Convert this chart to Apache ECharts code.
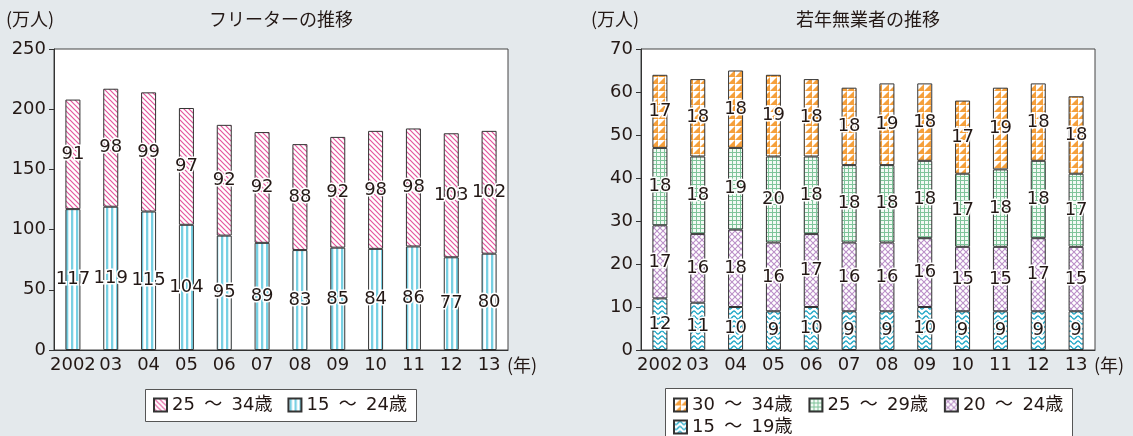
<!DOCTYPE html>
<html>
<head>
<meta charset="utf-8">
<script src="https://cdn.jsdelivr.net/npm/echarts@6/dist/echarts.min.js"></script>
<style>
  html, body { margin: 0; padding: 0; background: #e4e9ec; }
  #chart { width: 1133px; height: 436px; }
</style>
</head>
<body>
<div id="chart"></div>
<script>
// Years on the horizontal axis
const years = ['2002', '03', '04', '05', '06', '07', '08', '09', '10', '11', '12', '13'];

// フリーター (万人)
const freeter15to24 = [117, 119, 115, 104, 95, 89, 83, 85, 84, 86, 77, 80];
const freeter25to34 = [91, 98, 99, 97, 92, 92, 88, 92, 98, 98, 103, 102];

// 若年無業者 (万人)
const neet15to19 = [12, 11, 10, 9, 10, 9, 9, 10, 9, 9, 9, 9];
const neet20to24 = [17, 16, 18, 16, 17, 16, 16, 16, 15, 15, 17, 15];
const neet25to29 = [18, 18, 19, 20, 18, 18, 18, 18, 17, 18, 18, 17];
const neet30to34 = [17, 18, 18, 19, 18, 18, 19, 18, 17, 19, 18, 18];

// Series names (age groups); thin spaces widen the gap around the tilde
const freeterNames = ['25 \u2009～\u2009 34歳', '15 \u2009～\u2009 24歳'];
const neetNames = ['30 \u2009～\u2009 34歳', '25 \u2009～\u2009 29歳', '20 \u2009～\u2009 24歳', '15 \u2009～\u2009 19歳'];

const NUM_FONT = '"DejaVu Sans", "Noto Sans CJK JP", sans-serif';
const JP_FONT = '"Noto Sans CJK JP", "DejaVu Sans", sans-serif';
const INK = '#231815';

// Hatch fills built on small canvas tiles
function tile(w, h, draw) {
  const c = document.createElement('canvas');
  c.width = w; c.height = h;
  const g = c.getContext('2d');
  g.fillStyle = '#fff';
  g.fillRect(0, 0, w, h);
  draw(g, w, h);
  return { image: c, repeat: 'repeat' };
}

const pinkDiag = tile(5, 5, (g, w, h) => {
  g.strokeStyle = '#e4579d';
  g.lineWidth = 1.2;
  g.beginPath();
  g.moveTo(-1, -1); g.lineTo(w + 1, h + 1);
  g.moveTo(-1, h - 1); g.lineTo(1, h + 1);
  g.moveTo(w - 1, -1); g.lineTo(w + 1, 1);
  g.stroke();
});

const blueVert = tile(5, 5, (g) => {
  g.fillStyle = '#78d0e3';
  g.fillRect(1, 0, 2.3, 5);
});

const orangeTri = tile(7, 7, (g, w, h) => {
  g.fillStyle = '#f5a03c';
  g.beginPath();
  g.moveTo(w, 0); g.lineTo(w, h); g.lineTo(0, h); g.closePath();
  g.fill();
});

const greenGrid = tile(4, 4, (g, w, h) => {
  g.fillStyle = '#f3faf5';
  g.fillRect(0, 0, w, h);
  g.fillStyle = '#7fc49a';
  g.fillRect(0, 0, w, 1);
  g.fillRect(0, 0, 1, h);
});

const purpleLattice = tile(6, 6, (g, w, h) => {
  g.strokeStyle = '#bb90c8';
  g.lineWidth = 1.1;
  g.beginPath();
  g.moveTo(-1, -1); g.lineTo(w + 1, h + 1);
  g.moveTo(w + 1, -1); g.lineTo(-1, h + 1);
  g.stroke();
});

const cyanWave = tile(8, 5, (g, w, h) => {
  g.strokeStyle = '#1ea6c6';
  g.lineWidth = 1.4;
  g.beginPath();
  for (let x = 0; x <= w; x += 0.5) {
    const y = 2.5 + 1.5 * Math.sin((x / w) * Math.PI * 2);
    if (x === 0) g.moveTo(x, y); else g.lineTo(x, y);
  }
  g.stroke();
});

function barSeries(name, data, fill, axisIdx, stack) {
  return {
    name: name,
    type: 'bar',
    stack: stack,
    xAxisIndex: axisIdx,
    yAxisIndex: axisIdx,
    data: data,
    barWidth: 15,
    itemStyle: { color: fill, borderColor: '#333', borderWidth: 1 },
    label: {
      show: true,
      position: 'inside',
      color: INK,
      fontSize: 18,
      fontFamily: NUM_FONT,
      textBorderColor: '#fff',
      textBorderWidth: 3
    },
    emphasis: { disabled: true }
  };
}

function yAxis(gridIndex, max, interval) {
  return {
    type: 'value',
    gridIndex: gridIndex,
    min: 0, max: max, interval: interval,
    axisLine: { show: true, lineStyle: { color: '#333', width: 1 } },
    axisTick: { show: true, length: 5, lineStyle: { color: '#333' } },
    axisLabel: { color: INK, fontSize: 18, fontFamily: NUM_FONT, margin: 8 },
    splitLine: { show: false }
  };
}

function xAxis(gridIndex) {
  return {
    type: 'category',
    gridIndex: gridIndex,
    data: years,
    axisLine: { lineStyle: { color: '#333', width: 1 } },
    axisTick: { show: false },
    axisLabel: { color: INK, fontSize: 18, fontFamily: NUM_FONT, margin: 6, interval: 0 }
  };
}

function legend(names, left, top, gap) {
  return {
    data: names,
    left: left, top: top,
    orient: 'horizontal',
    padding: 0,
    itemWidth: 13, itemHeight: 13, itemGap: gap, itemTextGap: 10,
    icon: 'rect',
    textStyle: { color: INK, fontSize: 18, fontFamily: NUM_FONT, lineHeight: 18 }
  };
}

const option = {
  backgroundColor: '#e4e9ec',
  animation: false,
  grid: [
    { left: 54, top: 49, width: 454, height: 301, show: true, backgroundColor: '#fff', borderColor: '#444', borderWidth: 1 },
    { left: 641, top: 49, width: 454, height: 301, show: true, backgroundColor: '#fff', borderColor: '#444', borderWidth: 1 }
  ],
  xAxis: [xAxis(0), xAxis(1)],
  yAxis: [yAxis(0, 250, 50), yAxis(1, 70, 10)],
  legend: [
    legend(freeterNames, 153, 396, 15),
    legend(neetNames.slice(0, 3), 673, 396, 16),
    legend(neetNames.slice(3), 673, 418, 16)
  ],
  graphic: [
    // legend frames
    { type: 'rect', z: -1, shape: { x: 145.5, y: 389.5, width: 271, height: 32 },
      style: { fill: '#fff', stroke: '#555', lineWidth: 1 } },
    { type: 'rect', z: -1, shape: { x: 665.5, y: 388.5, width: 407, height: 60 },
      style: { fill: '#fff', stroke: '#555', lineWidth: 1 } },
    // headings and units
    { type: 'text', left: 6, top: 10, style: { text: '(万人)', fill: INK, font: '18px ' + JP_FONT } },
    { type: 'text', left: 209, top: 10, style: { text: 'フリーターの推移', fill: INK, font: '18px ' + JP_FONT } },
    { type: 'text', left: 507, top: 356, style: { text: '(年)', fill: INK, font: '18px ' + JP_FONT } },
    { type: 'text', left: 591, top: 10, style: { text: '(万人)', fill: INK, font: '18px ' + JP_FONT } },
    { type: 'text', left: 796, top: 10, style: { text: '若年無業者の推移', fill: INK, font: '18px ' + JP_FONT } },
    { type: 'text', left: 1094, top: 356, style: { text: '(年)', fill: INK, font: '18px ' + JP_FONT } }
  ],
  series: [
    barSeries(freeterNames[1], freeter15to24, blueVert, 0, 'freeter'),
    barSeries(freeterNames[0], freeter25to34, pinkDiag, 0, 'freeter'),
    barSeries(neetNames[3], neet15to19, cyanWave, 1, 'neet'),
    barSeries(neetNames[2], neet20to24, purpleLattice, 1, 'neet'),
    barSeries(neetNames[1], neet25to29, greenGrid, 1, 'neet'),
    barSeries(neetNames[0], neet30to34, orangeTri, 1, 'neet')
  ]
};

echarts.init(document.getElementById('chart'), null, { renderer: 'canvas' }).setOption(option);
</script>
</body>
</html>
